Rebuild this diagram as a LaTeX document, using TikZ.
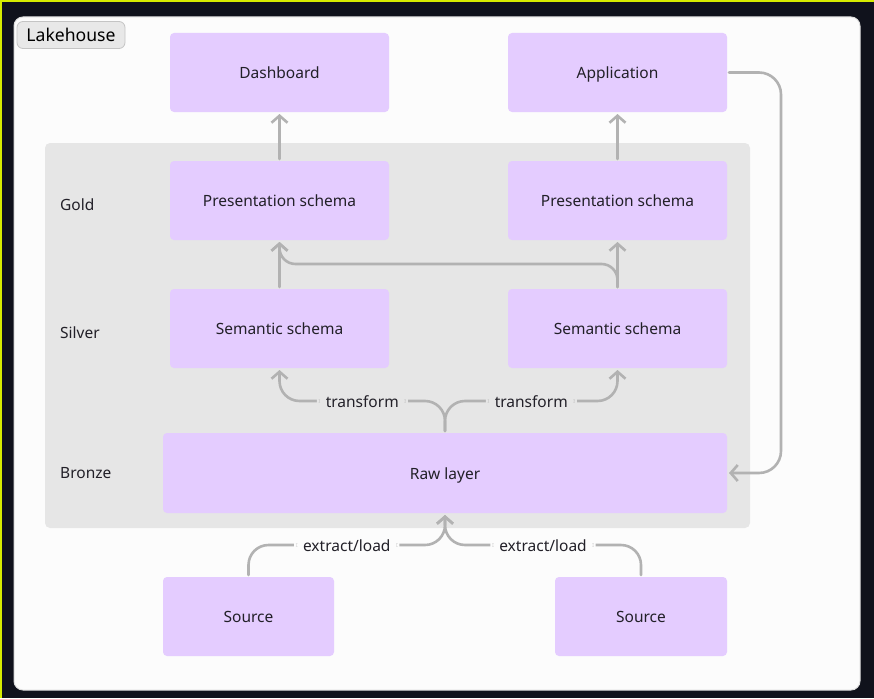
\documentclass[tikz,border=0pt]{standalone}
\usepackage{fontspec}
\setmainfont{Noto Sans}
\usetikzlibrary{arrows.meta}
\definecolor{bgdark}{RGB}{16,18,28}
\definecolor{edgeyellow}{RGB}{214,236,0}
\definecolor{card}{RGB}{252,252,252}
\definecolor{cardline}{RGB}{222,222,222}
\definecolor{panel}{RGB}{230,230,230}
\definecolor{boxfill}{RGB}{228,204,255}
\definecolor{tagfill}{RGB}{232,232,232}
\definecolor{tagline}{RGB}{196,196,196}
\definecolor{wire}{RGB}{178,178,178}
\definecolor{ink}{RGB}{34,32,40}
\tikzset{
  txt/.style={text=ink, font=\fontsize{15.5}{18}\selectfont, text height=12.5pt, text depth=0pt},
  box/.style={txt, rectangle, rounded corners=4pt, fill=boxfill, inner sep=0pt, outer sep=2pt},
  layer/.style={txt, anchor=west, inner sep=0pt},
  conn/.style={draw=wire, line width=2.6pt, rounded corners=20pt, line cap=round, line join=round,
    -{Straight Barb[length=7pt,width=16pt,line width=2.6pt]}},
  lbl/.style={txt, inner xsep=9pt, inner ysep=4pt},
}
\begin{document}
\begin{tikzpicture}[x=1pt,y=-1pt]
\useasboundingbox (0,0) rectangle (874,698);
% frame
\fill[bgdark] (0,0) rectangle (874,698);
\fill[edgeyellow] (0,0) rectangle (874,2);
\fill[edgeyellow] (0,0) rectangle (2,698);
\draw[cardline, fill=card, line width=1pt, rounded corners=9pt] (14,17) rectangle (860,690);
% group tag
\node[draw=tagline, fill=tagfill, line width=0.8pt, rounded corners=6pt, minimum width=108pt,
  minimum height=27pt, inner sep=0pt, font=\fontsize{17.6}{20}\selectfont, text=black,
  text height=13.8pt, text depth=0pt]
  (tag) at (71,35) {Lakehouse};
% medallion panel
\fill[panel, rounded corners=5pt] (45,143) rectangle (750,528);
\node[layer] (gold) at (60,204.5) {Gold};
\node[layer] (silver) at (60,332.5) {Silver};
\node[layer] (bronze) at (60,472.5) {Bronze};
% boxes
\node[box, minimum width=219pt, minimum height=79pt] (dash) at (279.5,72.5) {Dashboard};
\node[box, minimum width=219pt, minimum height=79pt] (app) at (617.5,72.5) {Application};
\node[box, minimum width=219pt, minimum height=79pt] (presL) at (279.5,200.5) {Presentation schema};
\node[box, minimum width=219pt, minimum height=79pt] (presR) at (617.5,200.5) {Presentation schema};
\node[box, minimum width=219pt, minimum height=79pt] (semL) at (279.5,328.5) {Semantic schema};
\node[box, minimum width=219pt, minimum height=79pt] (semR) at (617.5,328.5) {Semantic schema};
\node[box, minimum width=564pt, minimum height=80pt] (raw) at (445,473) {Raw layer};
\node[box, minimum width=171pt, minimum height=79pt] (srcL) at (248.5,616.5) {Source};
\node[box, minimum width=172pt, minimum height=79pt] (srcR) at (641,616.5) {Source};
% routing levels
\coordinate (crossY) at (0,264);
\coordinate (trY) at (0,401);
\coordinate (elY) at (0,545);
\coordinate (loopX) at (781,0);
% connectors
\draw[conn] (presL.north) -- (dash.south);
\draw[conn] (presR.north) -- (app.south);
\draw[conn] (semL.north) -- (presL.south);
\draw[conn] (semR.north) -- (presR.south);
\draw[conn, rounded corners=16pt] (semR.north) -- (semR.north |- crossY) -- (presL.south |- crossY) -- (presL.south);
\draw[conn] (raw.north) -- (raw.north |- trY) -- node[lbl, fill=panel] (t1) {transform} (semL.south |- trY) -- (semL.south);
\draw[conn] (raw.north) -- (raw.north |- trY) -- node[lbl, fill=panel] (t2) {transform} (semR.south |- trY) -- (semR.south);
\draw[conn] (srcL.north) -- (srcL.north |- elY) -- node[lbl, fill=card] (e1) {extract/load} (raw.south |- elY) -- (raw.south);
\draw[conn] (srcR.north) -- (srcR.north |- elY) -- node[lbl, fill=card] (e2) {extract/load} (raw.south |- elY) -- (raw.south);
\draw[conn, rounded corners=22pt] (app.east) -- (loopX |- app.east) -- (loopX |- raw.east) -- (raw.east);
\end{tikzpicture}
\end{document}
